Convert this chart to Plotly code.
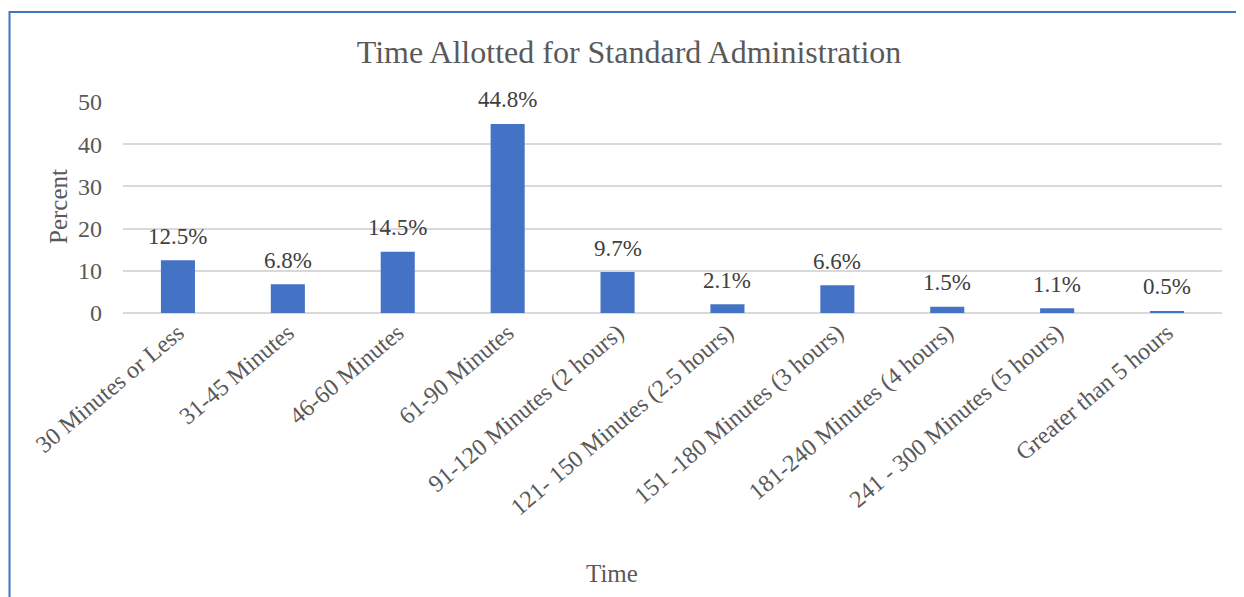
import plotly.graph_objects as go

categories = ["30 Minutes or Less", "31-45 Minutes", "46-60 Minutes", "61-90 Minutes",
              "91-120 Minutes (2 hours)", "121- 150 Minutes (2.5 hours)",
              "151 -180 Minutes (3 hours)", "181-240 Minutes (4 hours)",
              "241 - 300 Minutes (5 hours)", "Greater than 5 hours"]
percent = [12.5, 6.8, 14.5, 44.8, 9.7, 2.1, 6.6, 1.5, 1.1, 0.5]
y_ticks = [0, 10, 20, 30, 40, 50]

FONT = "Liberation Serif, Times New Roman, serif"
GREY = "#595959"

OFF = 8  # page body margin
W, H = 1244 - OFF, 597 - OFF
# screen-space plot rectangle
SX0, SX1, SY0, SY1 = 123, 1222, 102, 313
L, T = SX0 - OFF, SY0 - OFF
pw, ph = SX1 - SX0, SY1 - SY0
R, B = W - L - pw, H - T - ph

def px(x):
    return (x - SX0) / pw

def py(y):
    return 1 - (y - SY0) / ph

fig = go.Figure(go.Bar(
    x=categories, y=percent,
    marker=dict(color="#4472C4", line=dict(width=0)),
    width=0.31,
    hoverinfo="x+y",
))

label_annotations = [
    dict(x=c, y=v, xref="x", yref="y", text=f"{v:.1f}%", showarrow=False,
         yshift=24, yanchor="middle", xanchor="center",
         font=dict(family=FONT, size=23, color="#404040"))
    for c, v in zip(categories, percent)
]

fig.update_layout(
    width=W, height=H,
    margin=dict(l=L, r=R, t=T, b=B, pad=0),
    paper_bgcolor="white", plot_bgcolor="white",
    showlegend=False,
    title=dict(text="Time Allotted for Standard Administration",
               font=dict(family=FONT, size=32, color=GREY),
               x=(629 - OFF) / W, xref="container", xanchor="center",
               y=1 - (52 - OFF) / H, yref="container", yanchor="middle"),
    font=dict(family=FONT, size=24, color=GREY),
    xaxis=dict(tickangle=-40, showgrid=False, showline=False, ticks="",
               tickfont=dict(family=FONT, size=24, color=GREY)),
    yaxis=dict(range=[0, 50], tickvals=y_ticks, showgrid=True, gridcolor="#d9d9d9",
               gridwidth=1.5, zeroline=True, zerolinecolor="#d9d9d9", zerolinewidth=1.5,
               showline=False, ticks="", ticklabelstandoff=20,
               tickfont=dict(family=FONT, size=24, color=GREY)),
    annotations=label_annotations + [
        dict(text="Percent", textangle=-90, x=px(58), y=py(207), xref="paper", yref="paper",
             showarrow=False, font=dict(family=FONT, size=25, color=GREY),
             xanchor="center", yanchor="middle"),
        dict(text="Time", x=px(612), y=py(573), xref="paper", yref="paper",
             showarrow=False, font=dict(family=FONT, size=25, color=GREY),
             xanchor="center", yanchor="middle"),
    ],
    shapes=[dict(type="rect", xref="paper", yref="paper",
                 x0=px(9.5), x1=px(1270), y0=py(640), y1=py(12),
                 line=dict(color="#4472C4", width=2), layer="below")],
)

fig.write_html("out.html")
